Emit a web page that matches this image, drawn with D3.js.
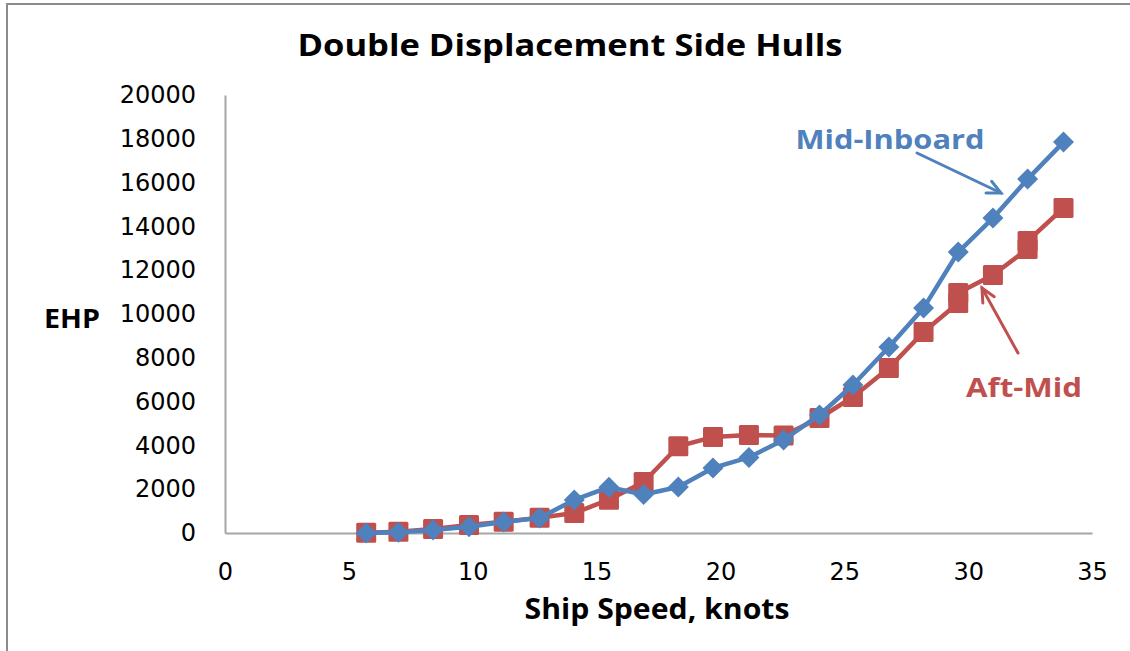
<!DOCTYPE html>
<html>
<head>
<meta charset="utf-8">
<script src="https://cdn.jsdelivr.net/npm/d3@7"></script>
<style>
  html, body { margin: 0; padding: 0; background: #fff; }
  svg { display: block; }
</style>
</head>
<body>
<svg id="chart" width="1130" height="651"></svg>
<script>
// ---- data ----
const midInboardSpeed = [5.7, 7.0, 8.4, 9.85, 11.25, 12.7, 14.1, 15.5, 16.9, 18.3, 19.7, 21.15, 22.55, 24.0, 25.35, 26.8, 28.2, 29.6, 31.0, 32.4, 33.85];
const midInboardEHP   = [0, 30, 140, 290, 500, 690, 1510, 2090, 1760, 2100, 2970, 3450, 4250, 5390, 6760, 8490, 10270, 12830, 14380, 16160, 17850];
const aftMidSpeed = [5.7, 7.0, 8.4, 9.85, 11.25, 12.7, 14.1, 15.5, 16.9, 18.3, 19.7, 21.15, 22.55, 24.0, 25.35, 26.8, 28.2, 29.6, 29.6, 31.0, 32.4, 32.4, 33.85];
const aftMidEHP   = [10, 60, 180, 370, 510, 700, 910, 1520, 2330, 3960, 4380, 4470, 4450, 5250, 6210, 7530, 9180, 10500, 10960, 11780, 12970, 13330, 14840];
const xTicks = [0, 5, 10, 15, 20, 25, 30, 35];
const yTicks = [0, 2000, 4000, 6000, 8000, 10000, 12000, 14000, 16000, 18000, 20000];
const titleText = "Double Displacement Side Hulls";
const xLabel = "Ship Speed, knots";
const yLabel = "EHP";
const seriesNames = ["Mid-Inboard", "Aft-Mid"];

// ---- layout ----
const svg = d3.select("#chart");
const blue = "#4F81BD", red = "#C0504D";
const x = d3.scaleLinear().domain([0, 35]).range([225, 1092]);
const y = d3.scaleLinear().domain([0, 20000]).range([533, 95]);

// outer frame (top and left visible)
svg.append("path").attr("d", "M7,651 V4 H1130").attr("fill", "none")
  .attr("stroke", "#8c8c8c").attr("stroke-width", 2);

// title
svg.append("text").attr("x", 570).attr("y", 56).attr("text-anchor", "middle")
  .attr("font-family", "Open Sans").attr("font-weight", "bold").attr("font-size", 30)
  .attr("textLength", 545).attr("lengthAdjust", "spacingAndGlyphs")
  .attr("fill", "#000").text(titleText);

// axes
const xAxis = d3.axisBottom(x).tickValues(xTicks).tickSize(0).tickPadding(0);
const gx = svg.append("g").attr("transform", `translate(0,${y(0)})`).call(xAxis);
gx.select(".domain").attr("stroke", "#a6a6a6").attr("stroke-width", 2);
gx.selectAll("text").attr("font-family", "DejaVu Sans").attr("font-size", 24)
  .attr("fill", "#000").attr("dy", 0).attr("y", 47);

const yAxis = d3.axisLeft(y).tickValues(yTicks).tickSize(0).tickPadding(29).tickFormat(d3.format("d"));
const gy = svg.append("g").attr("transform", `translate(${x(0)},0)`).call(yAxis);
gy.select(".domain").attr("stroke", "#a6a6a6").attr("stroke-width", 2);
gy.selectAll("text").attr("font-family", "DejaVu Sans").attr("font-size", 24)
  .attr("fill", "#000");

// axis titles
svg.append("text").attr("x", 657).attr("y", 619).attr("text-anchor", "middle")
  .attr("font-family", "Open Sans").attr("font-weight", "bold").attr("font-size", 28)
  .attr("textLength", 265).attr("lengthAdjust", "spacingAndGlyphs").text(xLabel);
svg.append("text").attr("x", 72).attr("y", 328).attr("text-anchor", "middle")
  .attr("font-family", "Open Sans").attr("font-weight", "bold").attr("font-size", 27)
  .attr("textLength", 56).attr("lengthAdjust", "spacingAndGlyphs").text(yLabel);

// series
const line = d3.line().x(d => x(d[0])).y(d => y(d[1]));
const aftData = aftMidSpeed.map((s, i) => [s, aftMidEHP[i]]);
const midData = midInboardSpeed.map((s, i) => [s, midInboardEHP[i]]);

svg.append("path").datum(aftData).attr("d", line).attr("fill", "none")
  .attr("stroke", red).attr("stroke-width", 4.5).attr("stroke-linejoin", "round");
svg.append("g").selectAll("rect").data(aftData).join("rect")
  .attr("x", d => x(d[0]) - 10).attr("y", d => y(d[1]) - 10)
  .attr("width", 20).attr("height", 20).attr("rx", 1.5).attr("fill", red);

svg.append("path").datum(midData).attr("d", line).attr("fill", "none")
  .attr("stroke", blue).attr("stroke-width", 4.5).attr("stroke-linejoin", "round");
svg.append("g").selectAll("path").data(midData).join("path")
  .attr("d", d => { const cx = x(d[0]), cy = y(d[1]); return `M${cx},${cy-10.5}L${cx+10.5},${cy}L${cx},${cy+10.5}L${cx-10.5},${cy}Z`; })
  .attr("fill", blue);

// annotations
function arrow(x1, y1, x2, y2, color) {
  const g = svg.append("g").attr("stroke", color).attr("stroke-width", 3).attr("fill", "none")
    .attr("stroke-linecap", "round");
  g.append("line").attr("x1", x1).attr("y1", y1).attr("x2", x2).attr("y2", y2);
  const a = Math.atan2(y2 - y1, x2 - x1), L = 15, sp = 0.45;
  const p1 = [x2 - L * Math.cos(a - sp), y2 - L * Math.sin(a - sp)];
  const p2 = [x2 - L * Math.cos(a + sp), y2 - L * Math.sin(a + sp)];
  g.append("path").attr("d", `M${p1[0]},${p1[1]}L${x2},${y2}L${p2[0]},${p2[1]}`);
}
svg.append("text").attr("x", 890).attr("y", 149).attr("text-anchor", "middle")
  .attr("font-family", "Open Sans").attr("font-weight", "bold").attr("font-size", 27)
  .attr("textLength", 189).attr("lengthAdjust", "spacingAndGlyphs")
  .attr("fill", blue).text(seriesNames[0]);
arrow(917, 153, 1001, 193, blue);

svg.append("text").attr("x", 1024).attr("y", 397).attr("text-anchor", "middle")
  .attr("font-family", "Open Sans").attr("font-weight", "bold").attr("font-size", 27)
  .attr("textLength", 116).attr("lengthAdjust", "spacingAndGlyphs")
  .attr("fill", red).text(seriesNames[1]);
arrow(1018, 353, 982, 288, red);
</script>
</body>
</html>
